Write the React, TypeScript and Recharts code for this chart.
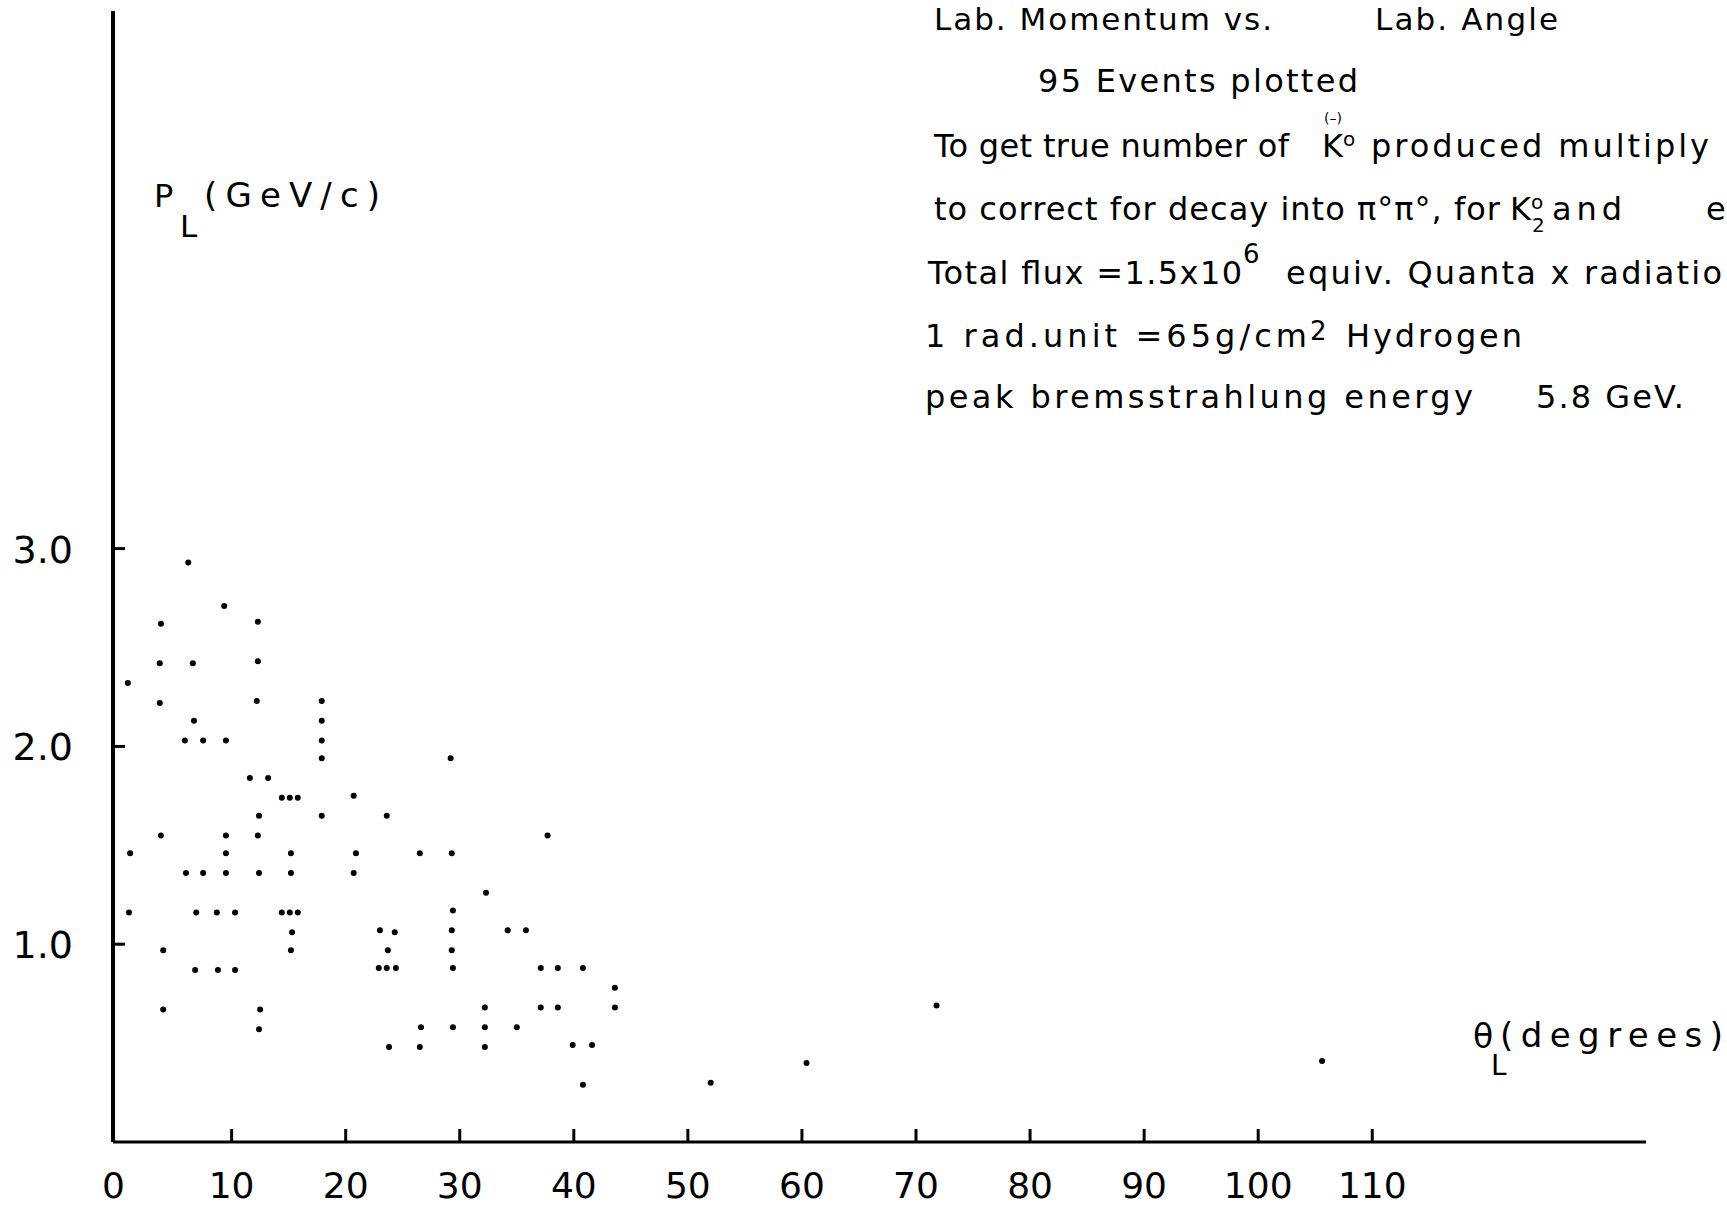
import { ScatterChart, Scatter, XAxis, YAxis } from 'recharts'

// lab angle of each event, degrees
const labAngle = [
  6.2, 9.35, 3.8, 12.3, 3.7, 6.6, 12.3, 0.9, 3.7, 12.2, 17.9, 6.7, 17.9, 5.9, 7.5, 9.5, 17.9, 17.9,
  11.6, 13.2, 14.4, 15.1, 15.8, 12.4, 17.9, 3.8, 9.5, 12.3, 1.1, 9.5, 15.2, 6.0, 7.5, 9.5, 12.4,
  15.2, 1.0, 6.9, 8.7, 10.3, 14.4, 15.1, 15.8, 15.3, 4.0, 15.2, 6.8, 8.8, 10.3, 4.0, 12.5, 12.4,
  29.2, 20.7, 23.6, 37.7, 20.9, 26.5, 29.3, 20.7, 32.3, 29.4, 23.0, 24.3, 29.3, 34.2, 35.8, 23.7,
  29.3, 22.9, 23.6, 24.4, 29.4, 37.1, 38.6, 40.8, 43.6, 32.2, 37.1, 38.6, 43.6, 26.6, 29.4, 32.2,
  35.0, 23.8, 26.5, 32.2, 39.9, 41.6, 40.8,
  52.0, 60.4, 71.8, 105.6,
]

// lab momentum of each event, GeV/c
const labMomentum = [
  2.93, 2.71, 2.62, 2.63, 2.42, 2.42, 2.43, 2.32, 2.22, 2.23, 2.23, 2.13, 2.13, 2.03, 2.03, 2.03, 2.03, 1.94,
  1.84, 1.84, 1.74, 1.74, 1.74, 1.65, 1.65, 1.55, 1.55, 1.55, 1.46, 1.46, 1.46, 1.36, 1.36, 1.36, 1.36,
  1.36, 1.16, 1.16, 1.16, 1.16, 1.16, 1.16, 1.16, 1.06, 0.97, 0.97, 0.87, 0.87, 0.87, 0.67, 0.67, 0.57,
  1.94, 1.75, 1.65, 1.55, 1.46, 1.46, 1.46, 1.36, 1.26, 1.17, 1.07, 1.06, 1.07, 1.07, 1.07, 0.97,
  0.97, 0.88, 0.88, 0.88, 0.88, 0.88, 0.88, 0.88, 0.78, 0.68, 0.68, 0.68, 0.68, 0.58, 0.58, 0.58,
  0.58, 0.48, 0.48, 0.48, 0.49, 0.49, 0.29,
  0.3, 0.4, 0.69, 0.41,
]

const xTicks = [0, 10, 20, 30, 40, 50, 60, 70, 80, 90, 100, 110]
const yTicks = [1, 2, 3]

const events = labAngle.map((a, i) => ({ angle: a, p: labMomentum[i] }))

const FONT = 'DejaVu Sans'

const XTick = ({ x, y, payload }: any) => (
  <g>
    {payload.value !== 0 && (
      <line x1={x} y1={y} x2={x} y2={y - 13} stroke="#000" strokeWidth={3} />
    )}
    <text
      x={payload.value === 0 ? x - 4 : x}
      y={y + 56}
      textAnchor="middle"
      fontSize={36}
      fontFamily={FONT}
      fill="#000"
    >
      {payload.value}
    </text>
  </g>
)

const YTick = ({ x, y, payload }: any) => (
  <g>
    <line x1={x} y1={y} x2={x + 12} y2={y} stroke="#000" strokeWidth={3} />
    <text x={x - 40} y={y + 14} textAnchor="end" fontSize={38} fontFamily={FONT} fill="#000">
      {payload.value.toFixed(1)}
    </text>
  </g>
)

const Dot = ({ cx, cy }: any) => <circle cx={cx} cy={cy} r={3} fill="#000" />

const Notes = () => (
  <svg
    width={1727}
    height={1208}
    style={{ position: 'absolute', left: 0, top: 0, pointerEvents: 'none' }}
    fontFamily={FONT}
    fill="#000"
  >
    <g fontSize={32}>
      <text x={934} y={30} fontSize={31} textLength={338} lengthAdjust="spacing">Lab. Momentum vs.</text>
      <text x={1375} y={30} fontSize={31} textLength={183} lengthAdjust="spacing">Lab. Angle</text>
      <text x={1038} y={92} textLength={320} lengthAdjust="spacing">95 Events plotted</text>

      <text x={934} y={157} textLength={355} lengthAdjust="spacing">To get true number of</text>
      <text x={1324} y={123} fontSize={14}>(–)</text>
      <text x={1322} y={157}>K<tspan dy={-11} fontSize={20}>o</tspan></text>
      <text x={1371} y={157} textLength={338} lengthAdjust="spacing">produced multiply</text>

      <text x={934} y={220} textLength={566} lengthAdjust="spacing">to correct for decay into π°π°, for</text>
      <text x={1510} y={220}>
        K<tspan dy={-11} fontSize={20}>o</tspan>
      </text>
      <text x={1532} y={232} fontSize={20}>2</text>
      <text x={1552} y={220} textLength={70} lengthAdjust="spacing">and</text>
      <text x={1706} y={220}>e</text>

      <text x={928} y={284} textLength={314} lengthAdjust="spacing">Total flux =1.5x10</text>
      <text x={1243} y={263} fontSize={26}>6</text>
      <text x={1286} y={284} textLength={436} lengthAdjust="spacing">equiv. Quanta x radiatio</text>

      <text x={925} y={347} textLength={382} lengthAdjust="spacing">1 rad.unit =65g/cm</text>
      <text x={1310} y={340} fontSize={26}>2</text>
      <text x={1346} y={347} textLength={176} lengthAdjust="spacing">Hydrogen</text>

      <text x={925} y={408} textLength={548} lengthAdjust="spacing">peak bremsstrahlung energy</text>
      <text x={1536} y={408} textLength={148} lengthAdjust="spacing">5.8 GeV.</text>
    </g>

    <g fontSize={34}>
      <text x={154} y={207} fontSize={32}>P</text>
      <text x={180} y={237} fontSize={31}>L</text>
      <text x={204} y={207} textLength={176} lengthAdjust="spacing">(GeV/c)</text>

      <text x={1473} y={1048} fontSize={33}>θ</text>
      <text x={1491} y={1075} fontSize={28}>L</text>
      <text x={1500} y={1047} textLength={223} lengthAdjust="spacing">(degrees)</text>
    </g>
  </svg>
)

export default function App() {
  return (
    <div style={{ position: 'absolute', left: 0, top: 0, width: 1727, height: 1208, background: '#fff' }}>
      <ScatterChart width={1727} height={1208} margin={{ top: 11, right: 81, bottom: 36, left: 53 }}>
        <XAxis
          type="number"
          dataKey="angle"
          domain={[-0.4, 134]}
          ticks={xTicks}
          allowDataOverflow
          axisLine={{ stroke: '#000', strokeWidth: 3 }}
          tickLine={false}
          tickSize={0}
          tickMargin={0}
          tick={<XTick />}
          interval={0}
        />
        <YAxis
          type="number"
          dataKey="p"
          domain={[0, 5.718]}
          ticks={yTicks}
          allowDataOverflow
          axisLine={{ stroke: '#000', strokeWidth: 4 }}
          tickLine={false}
          tickSize={0}
          tickMargin={0}
          tick={<YTick />}
          interval={0}
        />
        <Scatter data={events} shape={<Dot />} isAnimationActive={false} />
      </ScatterChart>
      <Notes />
    </div>
  )
}
